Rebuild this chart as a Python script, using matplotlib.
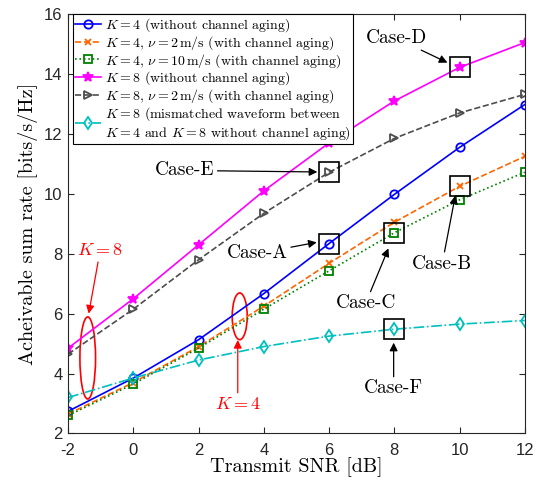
import matplotlib
matplotlib.use("Agg")
import matplotlib.pyplot as plt
from matplotlib.patches import Ellipse

plt.rcParams['mathtext.fontset'] = 'cm'
plt.rcParams['axes.unicode_minus'] = False
plt.rcParams['font.family'] = ['Liberation Sans', 'DejaVu Sans']

snr = [-2, 0, 2, 4, 6, 8, 10, 12]
k4_no_aging = [2.74, 3.85, 5.13, 6.67, 8.34, 9.98, 11.55, 12.98]
k4_v2 = [2.65, 3.70, 4.90, 6.25, 7.68, 9.05, 10.25, 11.25]
k4_v10 = [2.60, 3.65, 4.85, 6.15, 7.43, 8.70, 9.80, 10.72]
k8_no_aging = [4.85, 6.50, 8.30, 10.10, 11.70, 13.10, 14.22, 15.05]
k8_v2 = [4.65, 6.15, 7.80, 9.35, 10.72, 11.85, 12.70, 13.32]
k8_mismatch = [3.20, 3.85, 4.45, 4.90, 5.25, 5.48, 5.65, 5.77]

labels = [
    r"$K=4$ (without channel aging)",
    r"$K=4,\,\nu=2\,\mathrm{m/s}$ (with channel aging)",
    r"$K=4,\,\nu=10\,\mathrm{m/s}$ (with channel aging)",
    r"$K=8$ (without channel aging)",
    r"$K=8,\,\nu=2\,\mathrm{m/s}$ (with channel aging)",
    "$K=8$ (mismatched waveform between\n$K=4$ and $K=8$ without channel aging)",
]

# highlighted cases: (name, series index, snr index)
cases = [("Case-A", 0, 4), ("Case-B", 1, 6), ("Case-C", 2, 5),
         ("Case-D", 3, 6), ("Case-E", 4, 4), ("Case-F", 5, 5)]

fig = plt.figure(figsize=(5.41, 4.87), dpi=100)
ax = fig.add_axes([0.126, 0.110, 0.844, 0.861])

series = [k4_no_aging, k4_v2, k4_v10, k8_no_aging, k8_v2, k8_mismatch]
styles = [
    dict(color=(0, 0, 1), ls='-', marker='o', mfc='none', ms=6),
    dict(color=(1, 0.4, 0), ls='--', marker='x', ms=5),
    dict(color=(0, 0.5, 0), ls=':', marker='s', mfc='none', ms=5.5),
    dict(color=(1, 0, 1), ls='-', marker='*', ms=7.5),
    dict(color=(0.3, 0.3, 0.3), ls='--', marker='>', mfc='none', ms=5.5),
    dict(color=(0, 0.75, 0.75), ls='-.', marker='d', mfc='none', ms=6),
]
for y, st, lab in zip(series, styles, labels):
    ax.plot(snr, y, lw=1.2, mew=1.3, label=lab, **st)

# boxes around highlighted points
for name, si, xi in cases:
    ax.plot(snr[xi], series[si][xi], marker='s', ms=14.5, mfc='none',
            mec='black', mew=1.2, ls='none')

ann_font = dict(family='cmr10', size=14)
arrow = dict(arrowstyle='-|>', color='black', lw=0.9, mutation_scale=12, shrinkA=0, shrinkB=0)
ax.annotate("Case-A", xy=(5.62, 8.38), xytext=(3.81, 8.01), ha='center', va='center',
            arrowprops=arrow, **ann_font)
ax.annotate("Case-B", xy=(9.87, 9.94), xytext=(9.47, 7.67), ha='center', va='center',
            arrowprops=arrow, **ann_font)
ax.annotate("Case-C", xy=(7.82, 8.18), xytext=(7.12, 6.34), ha='center', va='center',
            arrowprops=arrow, **ann_font)
ax.annotate("Case-D", xy=(9.63, 14.38), xytext=(8.07, 15.19), ha='center', va='center',
            arrowprops=arrow, **ann_font)
ax.annotate("Case-E", xy=(5.64, 10.73), xytext=(1.58, 10.78), ha='center', va='center',
            arrowprops=arrow, **ann_font)
ax.annotate("Case-F", xy=(7.98, 5.03), xytext=(7.98, 3.5), ha='center', va='center',
            arrowprops=arrow, **ann_font)

# red ellipses
ax.add_patch(Ellipse((-1.4, 4.52), 0.48, 2.74, fill=False, ec='red', lw=1.2))
ax.add_patch(Ellipse((3.26, 5.91), 0.46, 1.56, fill=False, ec='red', lw=1.2))
red_arrow = dict(arrowstyle='-|>', color='red', lw=0.9, mutation_scale=12, shrinkA=0, shrinkB=0)
ax.annotate("$K=8$", xy=(-1.37, 6.0), xytext=(-1.02, 8.1), ha='center', va='center',
            color='red', fontsize=13, arrowprops=red_arrow)
ax.annotate("$K=4$", xy=(3.2, 5.12), xytext=(3.2, 2.98), ha='center', va='center',
            color='red', fontsize=13, arrowprops=red_arrow)

ax.set_xlim(-2, 12)
ax.set_ylim(2, 16)
ax.set_xticks(range(-2, 13, 2))
ax.set_yticks(range(2, 17, 2))
spine_c = (0.15, 0.15, 0.15)
for s in ax.spines.values():
    s.set_color(spine_c)
    s.set_linewidth(0.8)
ax.tick_params(direction='in', top=True, right=True, length=4, width=0.8,
               color=spine_c, labelcolor=spine_c, labelsize=12)
ax.tick_params(axis='x', pad=7)
ax.tick_params(axis='y', pad=4)

ax.set_xlabel("Transmit SNR [dB]", family='cmr10', fontsize=14.5, labelpad=-1)
ax.set_ylabel("Acheivable sum rate [bits/s/Hz]", family='cmr10', fontsize=14.5, labelpad=4)

leg = ax.legend(loc='upper left', bbox_to_anchor=(0.01, 1.0), borderaxespad=0,
                prop=dict(family='cmr10', size=10), fancybox=False, framealpha=1,
                edgecolor='black', handlelength=1.9, handletextpad=0.25,
                labelspacing=0.0, borderpad=0.15)
leg.get_frame().set_linewidth(0.8)

fig.savefig("out.png", dpi=100)
